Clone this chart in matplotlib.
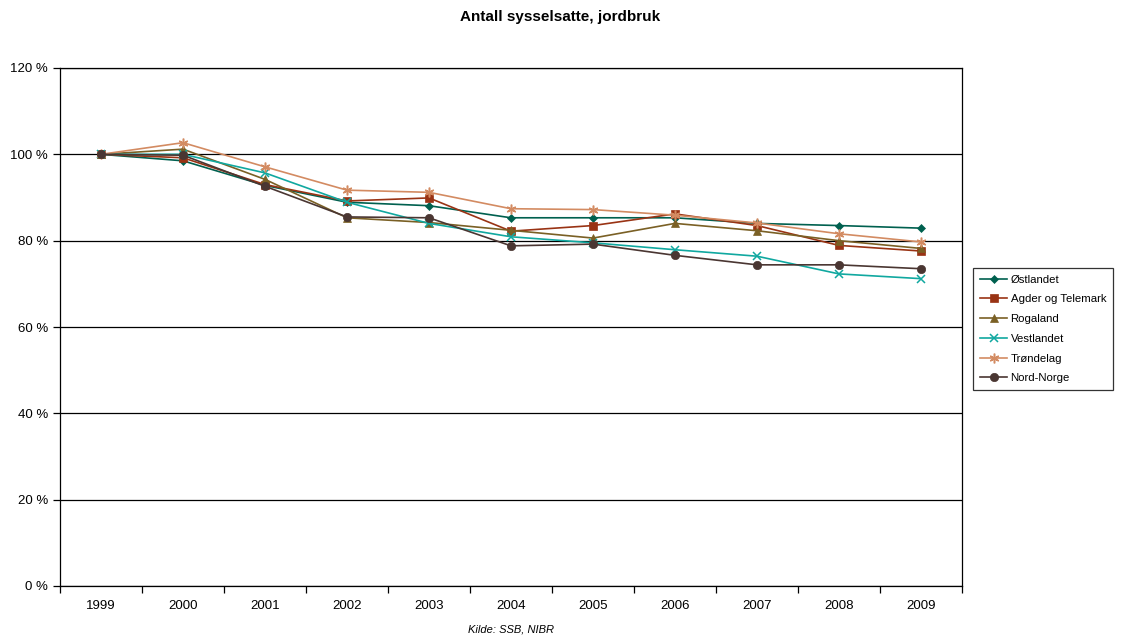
import matplotlib.pyplot as plt
import numpy as np
from matplotlib.ticker import FixedLocator, NullFormatter

plt.rcParams['font.family'] = ['Liberation Sans', 'DejaVu Sans']

years = ['1999', '2000', '2001', '2002', '2003', '2004', '2005', '2006', '2007', '2008', '2009']

ostlandet = [100, 98.5, 92.8, 88.9, 88.1, 85.3, 85.3, 85.3, 84.0, 83.5, 82.9]
agder = [100, 99.2, 93.0, 89.2, 89.9, 82.2, 83.5, 86.2, 83.5, 78.9, 77.6]
rogaland = [100, 101.2, 94.2, 85.3, 84.2, 82.4, 80.6, 84.0, 82.3, 80.0, 78.2]
vestlandet = [100, 100.0, 95.7, 88.9, 84.0, 80.9, 79.5, 77.9, 76.4, 72.3, 71.2]
trondelag = [100, 102.7, 97.1, 91.7, 91.2, 87.4, 87.2, 85.9, 84.1, 81.6, 79.7]
nord_norge = [100, 99.8, 92.6, 85.5, 85.3, 78.8, 79.2, 76.6, 74.4, 74.4, 73.5]

series = [
    ('Østlandet', ostlandet, '#00604F', 'D', 4.5),
    ('Agder og Telemark', agder, '#993314', 's', 5.5),
    ('Rogaland', rogaland, '#7A6025', '^', 5.5),
    ('Vestlandet', vestlandet, '#10A8A0', 'x', 6),
    ('Trøndelag', trondelag, '#D38B62', (6, 2, 0), 7),
    ('Nord-Norge', nord_norge, '#4A3632', 'o', 6),
]

fig = plt.figure(figsize=(11.21, 6.39), dpi=100)
ax = fig.add_axes([60 / 1121, 1 - 586 / 639, 902 / 1121, 518 / 639])

x = np.arange(len(years))
for name, vals, color, marker, ms in series:
    ax.plot(x, vals, color=color, marker=marker, markersize=ms, linewidth=1.2,
            markeredgewidth=1.1 if marker in ('x', (6, 2, 0)) else 0.5,
            markeredgecolor=color, label=name)

ax.set_xlim(-0.5, len(years) - 0.5)
ax.set_ylim(0, 120)
ax.set_yticks(range(0, 121, 20))
ax.set_yticklabels([f'{v} %' for v in range(0, 121, 20)], fontsize=9.5)
ax.yaxis.grid(True, color='black', linewidth=0.9)
ax.set_axisbelow(True)

ax.set_xticks(x)
ax.set_xticklabels(years, fontsize=9.5)
ax.tick_params(axis='x', which='major', length=0, pad=10)
ax.xaxis.set_minor_locator(FixedLocator(np.arange(-0.5, len(years), 1.0)))
ax.xaxis.set_minor_formatter(NullFormatter())
ax.tick_params(axis='x', which='minor', length=5, width=0.9)
ax.tick_params(axis='y', length=5, width=0.9)
for sp in ax.spines.values():
    sp.set_linewidth(0.9)

fig.text(0.5, 1 - 17 / 639, 'Antall sysselsatte, jordbruk', ha='center', va='center',
         fontsize=11, fontweight='bold')
fig.text(511 / 1121, 1 - 630 / 639, 'Kilde: SSB, NIBR', ha='center', va='center',
         fontsize=8, style='italic')

leg = fig.legend(loc='center left', bbox_to_anchor=(973 / 1121, 1 - 329 / 639),
                 fontsize=8.2, frameon=True, fancybox=False, edgecolor='black',
                 handlelength=2.4, handletextpad=0.3, labelspacing=0.85,
                 borderpad=0.6, borderaxespad=0)
leg.get_frame().set_linewidth(0.9)

fig.savefig('out.png', dpi=100)
